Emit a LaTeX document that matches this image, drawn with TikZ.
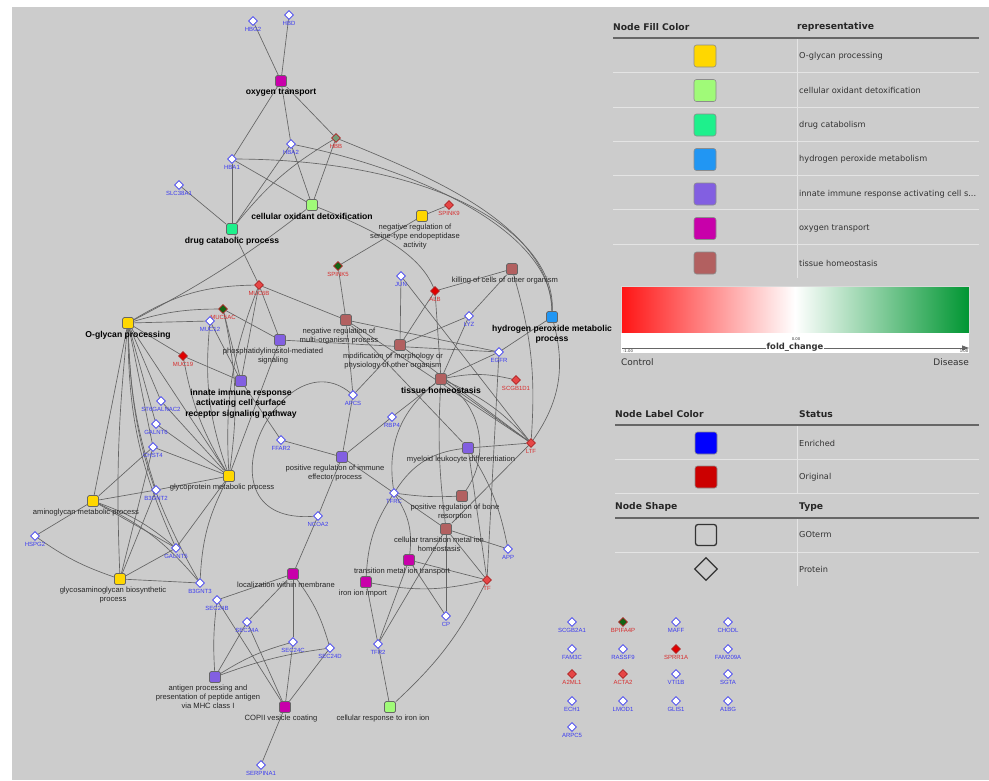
\documentclass[tikz,border=0pt]{standalone}
\usepackage{fontspec}
\setmainfont{Liberation Sans}
\newfontfamily\lgfont{DejaVu Sans}
\usepackage{tikz}
\usetikzlibrary{shapes.geometric,arrows.meta,backgrounds}
\usepackage{xcolor}
\definecolor{cBack}{RGB}{204,204,204}
\definecolor{cEdge}{RGB}{100,100,100}
\definecolor{cYel}{RGB}{255,215,0}
\definecolor{cLgr}{RGB}{160,250,120}
\definecolor{cTeal}{RGB}{30,240,140}
\definecolor{cBlu}{RGB}{33,150,243}
\definecolor{cPur}{RGB}{130,95,225}
\definecolor{cMag}{RGB}{200,0,170}
\definecolor{cBrn}{RGB}{178,96,96}
\definecolor{cEnr}{RGB}{60,60,240}
\definecolor{cOri}{RGB}{215,45,45}
\definecolor{cRedF}{RGB}{225,0,0}
\definecolor{cLtRed}{RGB}{230,70,70}
\definecolor{cDkGrn}{RGB}{20,100,20}
\definecolor{cMidGrn}{RGB}{120,155,120}
\definecolor{cBarR}{RGB}{255,20,20}
\definecolor{cBarG}{RGB}{0,150,50}
\definecolor{cRule}{RGB}{228,228,228}
\definecolor{cTxt}{RGB}{50,50,50}
\tikzset{
  goterm/.style={rectangle,rounded corners=1.5pt,draw=black!60,
                 line width=0.7pt,minimum size=11pt,inner sep=0pt},
  yelnode/.style={goterm,fill=cYel},
  lgrnode/.style={goterm,fill=cLgr},
  tealnode/.style={goterm,fill=cTeal},
  blunode/.style={goterm,fill=cBlu},
  purnode/.style={goterm,fill=cPur},
  magnode/.style={goterm,fill=cMag},
  brnnode/.style={goterm,fill=cBrn},
  protein/.style={diamond,minimum size=9pt,inner sep=0pt,line width=0.8pt},
  enrnode/.style={protein,fill=white,draw=cEnr},
  orinode/.style={protein,draw=cOri!80!black},
  golab/.style={font=\fontsize{7.6}{8.8}\selectfont,text=black!85,
                align=center,inner sep=0.5pt,xshift=-7pt,yshift=-1.5pt},
  gobold/.style={font=\fontsize{8.6}{10.5}\selectfont\bfseries,text=black,
                 align=center,inner sep=0.5pt,yshift=-1.5pt},
  enrlab/.style={font=\fontsize{6}{7}\selectfont,text=cEnr,
                 inner sep=0.3pt,yshift=-0.8pt},
  orilab/.style={font=\fontsize{6}{7}\selectfont,text=cOri,
                 inner sep=0.3pt,yshift=-0.8pt},
  lnk/.style={draw=cEdge,line width=0.65pt},
  lghead/.style={font=\lgfont\fontsize{9.2}{10}\selectfont\bfseries,
                 text=black!85,inner sep=0pt,anchor=west},
  lgtext/.style={font=\lgfont\fontsize{8.2}{9}\selectfont,text=cTxt,
                 inner sep=0pt,anchor=west},
  swatch/.style={rectangle,rounded corners=2.5pt,minimum size=22pt,
                 inner sep=0pt,draw=black!45,line width=0.6pt},
  tblrule/.style={draw=black!60,line width=1.2pt},
  rowrule/.style={draw=cRule,line width=1pt}
}

\begin{document}
\begin{tikzpicture}[x=1pt,y=-1pt]
  \useasboundingbox (0,0) rectangle (989,780);

  % GO terms
  \node[magnode,label={[gobold]below:oxygen transport}] (oxy) at (281,81) {};
  \node[lgrnode,label={[gobold]below:cellular oxidant detoxification}] (cellox) at (312,205) {};
  \node[tealnode,label={[gobold]below:drug catabolic process}] (drug) at (232,229) {};
  \node[yelnode,label={[golab]below:negative regulation of\\serine-type endopeptidase\\activity}] (negser) at (422,216) {};
  \node[yelnode,label={[gobold]below:O-glycan processing}] (oglyc) at (128,323) {};
  \node[brnnode,label={[golab]below:negative regulation of\\multi-organism process}] (negmulti) at (346,320) {};
  \node[purnode,label={[golab]below:phosphatidylinositol-mediated\\signaling}] (phos) at (280,340) {};
  \node[purnode,label={[gobold]below:innate immune response\\activating cell surface\\receptor signaling pathway}] (innate) at (241,381) {};
  \node[brnnode,label={[golab]below:killing of cells of other organism}] (kill) at (512,269) {};
  \node[blunode,label={[gobold]below:hydrogen peroxide metabolic\\process}] (perox) at (552,317) {};
  \node[brnnode,label={[golab]below:modification of morphology or\\physiology of other organism}] (morph) at (400,345) {};
  \node[brnnode,label={[gobold]below:tissue homeostasis}] (tissue) at (441,379) {};
  \node[purnode,label={[golab]below:myeloid leukocyte differentiation}] (myel) at (468,448) {};
  \node[purnode,label={[golab]below:positive regulation of immune\\effector process}] (immeff) at (342,457) {};
  \node[yelnode,label={[golab]below:glycoprotein metabolic process}] (glycop) at (229,476) {};
  \node[yelnode,label={[golab]below:aminoglycan metabolic process}] (amino) at (93,501) {};
  \node[yelnode,label={[golab]below:glycosaminoglycan biosynthetic\\process}] (gag) at (120,579) {};
  \node[brnnode,label={[golab]below:positive regulation of bone\\resorption}] (bone) at (462,496) {};
  \node[brnnode,label={[golab]below:cellular transition metal ion\\homeostasis}] (metalhom) at (446,529) {};
  \node[magnode,label={[golab]below:transition metal ion transport}] (metaltr) at (409,560) {};
  \node[magnode,label={[golab,xshift=4pt]below:iron ion import}] (ironimp) at (366,582) {};
  \node[magnode,label={[golab]below:localization within membrane}] (locmem) at (293,574) {};
  \node[purnode,label={[golab]below:antigen processing and\\presentation of peptide antigen\\via MHC class I}] (antigen) at (215,677) {};
  \node[magnode,label={[golab,xshift=3pt]below:COPII vesicle coating}] (copii) at (285,707) {};
  \node[lgrnode,label={[golab]below:cellular response to iron ion}] (ironresp) at (390,707) {};

  % proteins
  \node[enrnode,label={[enrlab]below:HBG2}] (hbg2) at (253,21) {};
  \node[enrnode,label={[enrlab]below:HBD}] (hbd) at (289,15) {};
  \node[orinode,fill=cMidGrn,label={[orilab]below:HBB}] (hbb) at (336,138) {};
  \node[enrnode,label={[enrlab]below:HBA2}] (hba2) at (291,144) {};
  \node[enrnode,label={[enrlab]below:HBA1}] (hba1) at (232,159) {};
  \node[enrnode,label={[enrlab]below:SLC38A1}] (slc38a1) at (179,185) {};
  \node[orinode,fill=cLtRed,label={[orilab]below:SPINK9}] (spink9) at (449,205) {};
  \node[orinode,fill=cDkGrn,label={[orilab]below:SPINK5}] (spink5) at (338,266) {};
  \node[orinode,fill=cLtRed,label={[orilab]below:MUC6B}] (muc6b) at (259,285) {};
  \node[orinode,fill=cDkGrn,label={[orilab]below:MUC5AC}] (muc5ac) at (223,309) {};
  \node[enrnode,label={[enrlab]below:MUC12}] (muc12) at (210,321) {};
  \node[orinode,fill=cRedF,label={[orilab]below:MUC19}] (muc19) at (183,356) {};
  \node[enrnode,label={[enrlab]below:JUN}] (jun) at (401,276) {};
  \node[orinode,fill=cRedF,label={[orilab]below:ALB}] (alb) at (435,291) {};
  \node[enrnode,label={[enrlab]below:LYZ}] (lyz) at (469,316) {};
  \node[enrnode,label={[enrlab]below:EGFR}] (egfr) at (499,352) {};
  \node[orinode,fill=cLtRed,label={[orilab]below:SCGB1D1}] (scgb1d1) at (516,380) {};
  \node[enrnode,label={[enrlab]below:APCS}] (apcs) at (353,395) {};
  \node[enrnode,label={[enrlab]below:ST6GALNAC2}] (st6galnac2) at (161,401) {};
  \node[enrnode,label={[enrlab]below:RBP4}] (rbp4) at (392,417) {};
  \node[enrnode,label={[enrlab]below:GALNT6}] (galnt6) at (156,424) {};
  \node[orinode,fill=cLtRed,label={[orilab]below:LTF}] (ltf) at (531,443) {};
  \node[enrnode,label={[enrlab]below:FFAR2}] (ffar2) at (281,440) {};
  \node[enrnode,label={[enrlab]below:CHST4}] (chst4) at (153,447) {};
  \node[enrnode,label={[enrlab]below:B3GNT2}] (b3gnt2) at (156,490) {};
  \node[enrnode,label={[enrlab]below:TFRC}] (tfrc) at (394,493) {};
  \node[enrnode,label={[enrlab]below:NCOA2}] (ncoa2) at (318,516) {};
  \node[enrnode,label={[enrlab]below:HSPG2}] (hspg2) at (35,536) {};
  \node[enrnode,label={[enrlab]below:GALNT5}] (galnt5) at (176,548) {};
  \node[enrnode,label={[enrlab]below:APP}] (app) at (508,549) {};
  \node[orinode,fill=cLtRed,label={[orilab]below:TF}] (tf) at (487,580) {};
  \node[enrnode,label={[enrlab]below:B3GNT3}] (b3gnt3) at (200,583) {};
  \node[enrnode,label={[enrlab]below:SEC24B}] (sec24b) at (217,600) {};
  \node[enrnode,label={[enrlab]below:CP}] (cp) at (446,616) {};
  \node[enrnode,label={[enrlab]below:SEC24A}] (sec24a) at (247,622) {};
  \node[enrnode,label={[enrlab]below:SEC24C}] (sec24c) at (293,642) {};
  \node[enrnode,label={[enrlab]below:TFR2}] (tfr2) at (378,644) {};
  \node[enrnode,label={[enrlab]below:SEC24D}] (sec24d) at (330,648) {};
  \node[enrnode,label={[enrlab]below:SERPINA1}] (serpina1) at (261,765) {};

  % proteins without links
  \node[enrnode,label={[enrlab]below:SCGB2A1}] (scgb2a1) at (572,622) {};
  \node[orinode,fill=cDkGrn,label={[orilab]below:BPIFA4P}] (bpifa4p) at (623,622) {};
  \node[enrnode,label={[enrlab]below:MAFF}] (maff) at (676,622) {};
  \node[enrnode,label={[enrlab]below:CHODL}] (chodl) at (728,622) {};
  \node[enrnode,label={[enrlab]below:FAM3C}] (fam3c) at (572,649) {};
  \node[enrnode,label={[enrlab]below:RASSF9}] (rassf9) at (623,649) {};
  \node[orinode,fill=cRedF,label={[orilab]below:SPRR1A}] (sprr1a) at (676,649) {};
  \node[enrnode,label={[enrlab]below:FAM209A}] (fam209a) at (728,649) {};
  \node[orinode,fill=cLtRed,label={[orilab]below:A2ML1}] (a2ml1) at (572,674) {};
  \node[orinode,fill=cLtRed,label={[orilab]below:ACTA2}] (acta2) at (623,674) {};
  \node[enrnode,label={[enrlab]below:VTI1B}] (vti1b) at (676,674) {};
  \node[enrnode,label={[enrlab]below:SGTA}] (sgta) at (728,674) {};
  \node[enrnode,label={[enrlab]below:ECH1}] (ech1) at (572,701) {};
  \node[enrnode,label={[enrlab]below:LMOD1}] (lmod1) at (623,701) {};
  \node[enrnode,label={[enrlab]below:GLIS1}] (glis1) at (676,701) {};
  \node[enrnode,label={[enrlab]below:A1BG}] (a1bg) at (728,701) {};
  \node[enrnode,label={[enrlab]below:ARPC5}] (arpc5) at (572,727) {};

  \begin{pgfonlayer}{background}
    \fill[cBack] (12,7) rectangle (989,780);
    % oxygen / oxidant cluster
    \draw[lnk] (hbg2)--(oxy); \draw[lnk] (hbd)--(oxy);
    \draw[lnk] (oxy)--(hba1); \draw[lnk] (oxy)--(hba2); \draw[lnk] (oxy)--(hbb);
    \draw[lnk] (hba1)--(drug); \draw[lnk] (hba1)--(cellox);
    \draw[lnk] (hba2)--(cellox); \draw[lnk] (hba2)--(drug);
    \draw[lnk] (hbb)--(cellox); \draw[lnk] (hbb) to[bend right=10] (drug);
    \draw[lnk] (slc38a1)--(drug);
    \draw[lnk] (hba1) .. controls (440,160) and (556,235) .. (perox);
    \draw[lnk] (hba2) .. controls (420,170) and (553,232) .. (perox);
    \draw[lnk] (hbb) .. controls (440,180) and (550,228) .. (perox);
    \draw[lnk] (spink9)--(negser); \draw[lnk] (spink5)--(negser);
    \draw[lnk] (cellox) to[bend left=5] (oglyc);
    \draw[lnk] (drug)--(muc6b);
    \draw[lnk] (cellox) .. controls (380,232) and (420,255) .. (alb);
    % mucins
    \draw[lnk] (oglyc)--(muc12); \draw[lnk] (oglyc) to[bend left=8] (muc5ac);
    \draw[lnk] (oglyc) to[bend left=15] (muc6b); \draw[lnk] (oglyc)--(muc19);
    \draw[lnk] (muc19)--(innate); \draw[lnk] (muc12)--(innate);
    \draw[lnk] (muc5ac)--(innate); \draw[lnk] (muc6b)--(innate);
    \draw[lnk] (muc5ac)--(phos); \draw[lnk] (muc6b)--(phos);
    \draw[lnk] (muc6b)--(negmulti);
    \draw[lnk] (muc12) to[bend right=12] (glycop);
    \draw[lnk] (muc5ac) to[bend left=10] (glycop);
    \draw[lnk] (muc19) to[bend right=10] (glycop);
    \draw[lnk] (muc6b) to[bend right=12] (glycop);
    % O-glycan and glycan terms
    \draw[lnk] (oglyc)--(amino); \draw[lnk] (oglyc) to[bend right=4] (gag);
    \draw[lnk] (oglyc)--(glycop); \draw[lnk] (oglyc)--(st6galnac2);
    \draw[lnk] (oglyc)--(galnt6); \draw[lnk] (oglyc)--(chst4);
    \draw[lnk] (oglyc) to[bend right=8] (b3gnt2);
    \draw[lnk] (oglyc) to[bend right=12] (galnt5);
    \draw[lnk] (oglyc) to[bend right=14] (b3gnt3);
    \draw[lnk] (glycop)--(st6galnac2); \draw[lnk] (glycop)--(galnt6);
    \draw[lnk] (glycop)--(chst4); \draw[lnk] (glycop)--(b3gnt2);
    \draw[lnk] (glycop)--(galnt5); \draw[lnk] (glycop) to[bend right=12] (b3gnt3);
    \draw[lnk] (glycop)--(phos);
    \draw[lnk] (amino)--(chst4); \draw[lnk] (amino)--(b3gnt2);
    \draw[lnk] (amino)--(hspg2); \draw[lnk] (amino)--(galnt5);
    \draw[lnk] (amino) to[bend left=10] (galnt5);
    \draw[lnk] (amino) to[bend left=12] (b3gnt3);
    \draw[lnk] (gag) to[bend left=8] (hspg2); \draw[lnk] (gag)--(chst4);
    \draw[lnk] (gag)--(b3gnt2); \draw[lnk] (gag)--(galnt5);
    \draw[lnk] (gag)--(b3gnt3);
    % immune and homeostasis terms
    \draw[lnk] (phos)--(egfr); \draw[lnk] (innate)--(ffar2);
    \draw[lnk] (immeff)--(ffar2); \draw[lnk] (immeff)--(apcs);
    \draw[lnk] (immeff)--(rbp4); \draw[lnk] (immeff)--(tfrc);
    \draw[lnk] (immeff)--(ncoa2);
    \draw[lnk] (apcs) .. controls (280,335) and (190,525) .. (ncoa2);
    \draw[lnk] (negmulti)--(spink5); \draw[lnk] (negmulti)--(apcs);
    \draw[lnk] (negmulti)--(ltf); \draw[lnk] (negmulti)--(egfr);
    \draw[lnk] (negmulti)--(myel);
    \draw[lnk] (morph)--(jun); \draw[lnk] (morph)--(alb);
    \draw[lnk] (morph)--(lyz); \draw[lnk] (morph)--(apcs);
    \draw[lnk] (morph)--(ltf); \draw[lnk] (jun)--(ltf);
    \draw[lnk] (kill)--(alb); \draw[lnk] (kill)--(lyz);
    \draw[lnk] (kill) to[bend left=10] (ltf);
    \draw[lnk] (perox)--(egfr); \draw[lnk] (perox) to[bend left=25] (ltf);
    \draw[lnk] (tissue)--(lyz); \draw[lnk] (tissue)--(egfr);
    \draw[lnk] (tissue) to[bend left=12] (scgb1d1); \draw[lnk] (tissue)--(alb);
    \draw[lnk] (tissue)--(rbp4); \draw[lnk] (tissue)--(ltf);
    \draw[lnk] (tissue) to[bend left=12] (ltf);
    \draw[lnk] (tissue) to[bend right=30] (tfrc);
    \draw[lnk] (tissue) to[bend left=45] (bone);
    \draw[lnk] (tissue) to[bend right=5] (metalhom);
    \draw[lnk] (myel)--(ltf); \draw[lnk] (myel) to[bend left=10] (app);
    \draw[lnk] (myel)--(tf); \draw[lnk] (myel) to[bend right=25] (tfrc);
    \draw[lnk] (egfr)--(tf);
    % iron and metal terms
    \draw[lnk] (tfrc) to[bend right=5] (bone); \draw[lnk] (tfrc)--(metalhom);
    \draw[lnk] (tfrc) to[bend left=20] (metaltr);
    \draw[lnk] (tfrc) to[bend right=15] (ironimp);
    \draw[lnk] (metalhom)--(ltf); \draw[lnk] (metalhom)--(app);
    \draw[lnk] (metalhom)--(tf); \draw[lnk] (metalhom)--(cp);
    \draw[lnk] (metalhom)--(tfr2);
    \draw[lnk] (metaltr)--(tf); \draw[lnk] (metaltr)--(cp);
    \draw[lnk] (metaltr)--(tfr2);
    \draw[lnk] (ironimp) to[bend right=12] (tf); \draw[lnk] (ironimp)--(tfr2);
    \draw[lnk] (ironresp)--(tfr2); \draw[lnk] (ironresp) to[bend right=10] (tf);
    % membrane and vesicle terms
    \draw[lnk] (locmem)--(ncoa2); \draw[lnk] (locmem)--(sec24b);
    \draw[lnk] (locmem)--(sec24a); \draw[lnk] (locmem)--(sec24c);
    \draw[lnk] (locmem) to[bend left=10] (sec24d);
    \draw[lnk] (antigen) to[bend left=5] (sec24b); \draw[lnk] (antigen)--(sec24a);
    \draw[lnk] (antigen) to[bend left=8] (sec24c);
    \draw[lnk] (antigen) to[bend left=6] (sec24d);
    \draw[lnk] (copii)--(sec24b); \draw[lnk] (copii)--(sec24a);
    \draw[lnk] (copii)--(sec24c); \draw[lnk] (copii)--(sec24d);
    \draw[lnk] (copii)--(serpina1);
  \end{pgfonlayer}

  % legend: fill colour
  \node[lghead] (hfill) at (613,27) {Node Fill Color};
  \node[lghead] (hrep) at (797,27) {representative};
  \draw[tblrule] (613,38) -- (979,38);
  \draw[rowrule] (797,39) -- (797,278);
  \foreach \yy in {72,107,141,175,209,244}
    \draw[rowrule] (613,\yy) -- (979,\yy);
  \node[swatch,fill=cYel] (swy) at (705,56) {};
  \node[lgtext] (ty) at (799,56) {O-glycan processing};
  \node[swatch,fill=cLgr] (swl) at (705,90.5) {};
  \node[lgtext] (tl) at (799,90.5) {cellular oxidant detoxification};
  \node[swatch,fill=cTeal] (swt) at (705,125) {};
  \node[lgtext] (tt) at (799,125) {drug catabolism};
  \node[swatch,fill=cBlu] (swb) at (705,159.5) {};
  \node[lgtext] (tb) at (799,159.5) {hydrogen peroxide metabolism};
  \node[swatch,fill=cPur] (swp) at (705,194) {};
  \node[lgtext] (tp) at (799,194) {innate immune response activating cell s...};
  \node[swatch,fill=cMag] (swm) at (705,228.5) {};
  \node[lgtext] (tm) at (799,228.5) {oxygen transport};
  \node[swatch,fill=cBrn] (swr) at (705,263) {};
  \node[lgtext] (tr) at (799,263) {tissue homeostasis};

  % legend: fold change bar
  \shade[left color=cBarR,right color=cBarG,middle color=white,draw=black!15]
    (621,286) rectangle (969,333);
  \fill[white] (621,333) rectangle (969,353);
  \draw[black!60,line width=0.8pt,-{Triangle[length=7pt,width=5pt]}] (622,348) -- (969,348);
  \node[font=\lgfont\fontsize{3.8}{4}\selectfont,text=cTxt,inner sep=0pt] (zero) at (796,339) {0.00};
  \node[font=\lgfont\fontsize{8.4}{9}\selectfont\bfseries,text=cTxt,fill=white,inner sep=1pt] (fold) at (795,347) {fold\_change};
  \node[font=\lgfont\fontsize{3.8}{4}\selectfont,text=cTxt,inner sep=0pt] (mone) at (628,351.5) {-1.00};
  \node[font=\lgfont\fontsize{3.8}{4}\selectfont,text=cTxt,inner sep=0pt] (pone) at (964,351.5) {1.00};
  \node[font=\lgfont\fontsize{9}{10}\selectfont,text=cTxt,inner sep=0pt,anchor=west] (ctrl) at (621,362) {Control};
  \node[font=\lgfont\fontsize{9}{10}\selectfont,text=cTxt,inner sep=0pt,anchor=east] (dis) at (969,362) {Disease};

  % legend: label colour and shape
  \node[lghead] (hlab) at (615,414) {Node Label Color};
  \node[lghead] (hstat) at (799,414) {Status};
  \draw[tblrule] (615,425) -- (979,425);
  \draw[rowrule] (797,426) -- (797,493);
  \draw[rowrule] (615,459) -- (979,459);
  \draw[rowrule] (615,493) -- (979,493);
  \node[swatch,fill=blue] (swe) at (706,443) {};
  \node[lgtext] (te) at (799,443) {Enriched};
  \node[swatch,fill=red!80!black] (swo) at (706,477) {};
  \node[lgtext] (to) at (799,477) {Original};
  \node[lghead] (hshape) at (615,507) {Node Shape};
  \node[lghead] (htype) at (799,507) {Type};
  \draw[tblrule] (615,518) -- (979,518);
  \draw[rowrule] (797,519) -- (797,586);
  \draw[rowrule] (615,552) -- (979,552);
  \node[swatch,draw=black!80,line width=1.3pt,minimum size=21pt] (swg) at (706,535) {};
  \node[lgtext] (tg) at (799,535) {GOterm};
  \node[diamond,draw=black!80,line width=1.2pt,minimum size=23pt,inner sep=0pt] (swd) at (706,569) {};
  \node[lgtext] (td) at (799,569) {Protein};
\end{tikzpicture}
\end{document}
